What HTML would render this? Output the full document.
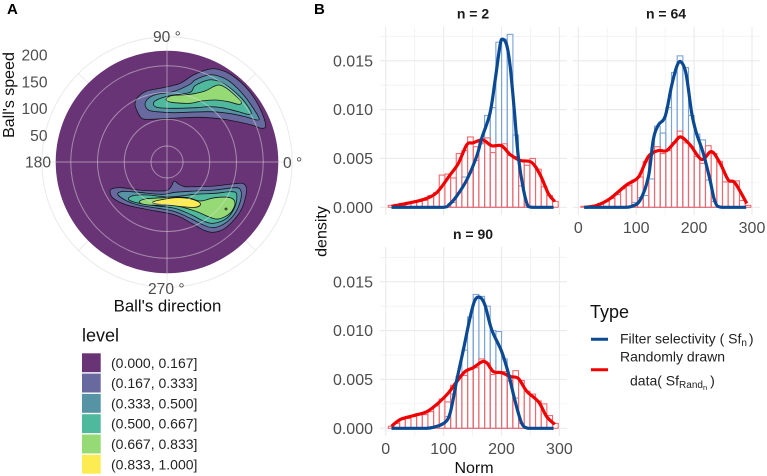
<!DOCTYPE html>
<html>
<head>
<meta charset="utf-8">
<style>
html,body{margin:0;padding:0;background:#fff;width:767px;height:476px;overflow:hidden}
svg{display:block}
text{font-family:"Liberation Sans",sans-serif}
</style>
</head>
<body>
<svg id="fig" xmlns="http://www.w3.org/2000/svg" width="767" height="476" viewBox="0 0 767 476"></svg>
<script>
// ---------- Panel A data ----------
const ringSpeeds = [0, 50, 100, 150, 204];
const speedTicks = [50, 100, 150, 200];
const levelLabels = ['(0.000, 0.167]', '(0.167, 0.333]', '(0.333, 0.500]', '(0.500, 0.667]', '(0.667, 0.833]', '(0.833, 1.000]'];
const levelColors = ['#693476', '#67699f', '#5593a5', '#4eb99d', '#95da74', '#fdec51'];
// contours: [velocity-x, velocity-y, ...] with level index
const upperLevel1 = [-96,176,-86,196,-61,213,-11,223,39,236,79,261,124,278,154,278,194,261,244,216,279,161,296,111,284,101,254,111,184,126,124,133,84,134,9,131,-51,128,-76,131,-91,156];
const upperLevel2 = [-66,173,-56,191,-31,203,19,211,69,233,84,246,124,261,154,258,189,241,234,196,274,136,269,126,234,136,184,146,124,151,19,148,-31,151,-56,156];
const upperLevel3 = [-41,173,-31,186,9,199,69,209,84,229,124,246,154,243,184,226,224,191,252,151,244,143,214,151,164,163,124,166,89,163,19,161,-26,163];
const upperLevel4 = [-3,188,14,199,69,203,114,213,139,226,156,231,179,221,214,191,224,178,214,173,184,181,144,186,104,183,69,176,14,179];
const lowerLevel1 = [-171,-89,-164,-80,-136,-77,-86,-84,-16,-87,4,-83,14,-71,22,-57,36,-67,54,-74,84,-74,144,-72,214,-64,232,-67,239,-84,229,-129,209,-164,174,-199,139,-211,109,-204,74,-184,24,-159,-61,-142,-121,-129,-161,-109];
const lowerLevel2 = [-148,-96,-131,-88,-86,-91,-16,-97,24,-91,84,-87,144,-84,204,-77,221,-85,221,-114,204,-154,174,-184,139,-197,109,-189,74,-171,24,-149,-26,-139,-86,-129,-126,-114];
const lowerLevel3 = [-116,-111,-101,-101,-56,-99,4,-105,84,-97,144,-94,194,-89,209,-97,204,-134,179,-169,139,-184,109,-177,74,-159,24,-139,-36,-131,-96,-121];
const lowerLevel4 = [-83,-121,-66,-111,-11,-107,24,-105,64,-107,99,-117,144,-107,189,-107,204,-124,189,-154,154,-171,124,-164,84,-147,24,-131,-56,-129];
const lowerLevel5 = [-44,-121,-21,-114,24,-107,64,-109,94,-119,100,-129,84,-136,44,-134,4,-129,-26,-126];
const contourLevels = [1, 2, 3, 4, 1, 2, 3, 4, 5];
const contourSeries = [upperLevel1, upperLevel2, upperLevel3, upperLevel4, lowerLevel1, lowerLevel2, lowerLevel3, lowerLevel4, lowerLevel5];
const contourPeak = [177, -141];

// ---------- Panel B data ----------
const binStart = 4.5;
const binWidth = 9.78;
const xTicks = [0, 100, 200, 300];
const xMinor = [50, 150, 250];
const yTicks = [0, 0.005, 0.01, 0.015];
const yMinor = [0.0025, 0.0075, 0.0125, 0.0175];

const n2RandBars = [.0002,.0003,.0004,.0005,.0006,.0006,.0007,.0012,.0015,.0033,.0034,.003,.0055,.0058,.0072,.0062,.0066,.0071,.0056,.0064,.0065,.0053,.0052,.0048,.0043,.005,.0039,.0021,.0012,.0006];
const n2FilterBars = [0,0,0,0,0,0,0,0,0,0,0,.0005,.0015,.0031,.0035,.0048,.0065,.0094,.0102,.0169,.0172,.0177,.0074,.0022,.0002,0,0,0,0,0];
const n2FilterX = [10,60,100,110,122,140,157,166,180,189,197.5,202,209,215,222,229,238,246,255,290];
const n2FilterY = [0,0,0,.0003,.0011,.0028,.0052,.0071,.0096,.013,.0166,.0172,.0166,.0144,.01,.0052,.0018,.0001,0,0];
const n2RandX = [10,36,65,88,111,125.5,140,151,167.5,183,200,215,232,252,267,281,292];
const n2RandY = [.0001,.0004,.0008,.0015,.0033,.0045,.0064,.0066,.0069,.0063,.0063,.0054,.0048,.0046,.0033,.0014,.0006];

const n64RandBars = [.0001,.0001,.0002,.0004,.0006,.0009,.0013,.0019,.0022,.0028,.0031,.0047,.0054,.0062,.0055,.0058,.0066,.0078,.0066,.0062,.0052,.0045,.0063,.0055,.0047,.0026,.0026,.0027,.0007,.0002];
const n64FilterBars = [0,0,0,0,0,0,0,0,.0001,.0005,.001,.0012,.0029,.0083,.0076,.0102,.0138,.0155,.0143,.0094,.0075,.0069,.0028,.0006,.0001,0,0,0,0,0];
const n64FilterX = [10,50,80,92,106.5,121,129.5,138,150,161,170,177,186,196,204,216,227.5,236,247.5,290];
const n64FilterY = [0,0,0,.0001,.0007,.0031,.0069,.0084,.0093,.0124,.0144,.0149,.0137,.0096,.0076,.0055,.0028,.0006,0,0];
const n64RandX = [11.5,32,55,83.5,104,121,138,152.5,167,177,193,213,230,245,259,270.5,291];
const n64RandY = [0,.0002,.0009,.0023,.0031,.0052,.0058,.0058,.0067,.0072,.0064,.0049,.0057,.0045,.0028,.0025,.0004];

const n90RandBars = [.0002,.0005,.0009,.001,.0012,.0014,.0014,.0017,.0023,.003,.0027,.0044,.0053,.0054,.0061,.0062,.0071,.0067,.0055,.0056,.0058,.0049,.0059,.0049,.0038,.0035,.0028,.0025,.0013,.0005];
const n90FilterBars = [0,0,0,0,0,0,0,0,0,.0005,.0012,.0035,.0053,.008,.0114,.0137,.0135,.0125,.01,.0099,.0071,.0048,.0031,.0005,0,0,0,0,0,0];
const n90FilterX = [10,40,70,82,100,111,123,134,146,154,163,171.5,183,200,212,223,235,246,255,290];
const n90FilterY = [0,0,0,.0001,.0005,.0015,.005,.008,.0114,.0131,.0134,.0126,.0101,.0079,.0056,.0029,.0005,0,0,0];
const n90RandX = [10,25,48,71,91,108,123,137,151,166,174.5,186,200,215,229,243.5,264,278,292];
const n90RandY = [.0002,.0009,.0013,.0017,.0026,.0036,.0048,.0058,.0062,.0068,.0067,.0058,.0057,.0053,.0051,.0038,.0027,.0012,.0004];

// ---------- helpers ----------
const NS = 'http://www.w3.org/2000/svg';
const fig = document.getElementById('fig');
function mk(tag, attrs, parent, txt) {
  const el = document.createElementNS(NS, tag);
  for (const k in attrs) el.setAttribute(k, attrs[k]);
  if (txt !== undefined) el.textContent = txt;
  (parent || fig).appendChild(el);
  return el;
}
function label(txt, x, y, size, fill, anchor, weight, rot) {
  const a = {x: x, y: y, 'font-size': size, fill: fill, 'text-anchor': anchor || 'start'};
  if (weight) a['font-weight'] = weight;
  if (rot) a.transform = 'rotate(' + rot + ' ' + x + ' ' + y + ')';
  return mk('text', a, fig, txt);
}
function smoothClosed(p) {
  const n = p.length;
  let d = 'M' + p[0][0].toFixed(2) + ' ' + p[0][1].toFixed(2);
  for (let i = 0; i < n; i++) {
    const p0 = p[(i - 1 + n) % n], p1 = p[i], p2 = p[(i + 1) % n], p3 = p[(i + 2) % n];
    d += 'C' + (p1[0] + (p2[0] - p0[0]) / 6).toFixed(2) + ' ' + (p1[1] + (p2[1] - p0[1]) / 6).toFixed(2) + ' ' +
      (p2[0] - (p3[0] - p1[0]) / 6).toFixed(2) + ' ' + (p2[1] - (p3[1] - p1[1]) / 6).toFixed(2) + ' ' +
      p2[0].toFixed(2) + ' ' + p2[1].toFixed(2);
  }
  return d + 'Z';
}
function smoothOpen(p, maxY) {
  const n = p.length;
  let d = 'M' + p[0][0].toFixed(2) + ' ' + p[0][1].toFixed(2);
  for (let i = 0; i < n - 1; i++) {
    const p0 = p[Math.max(i - 1, 0)], p1 = p[i], p2 = p[i + 1], p3 = p[Math.min(i + 2, n - 1)];
    const c1y = Math.min(p1[1] + (p2[1] - p0[1]) / 6, maxY);
    const c2y = Math.min(p2[1] - (p3[1] - p1[1]) / 6, maxY);
    d += 'C' + (p1[0] + (p2[0] - p0[0]) / 6).toFixed(2) + ' ' + c1y.toFixed(2) + ' ' +
      (p2[0] - (p3[0] - p1[0]) / 6).toFixed(2) + ' ' + c2y.toFixed(2) + ' ' +
      p2[0].toFixed(2) + ' ' + p2[1].toFixed(2);
  }
  return d;
}

// ---------- Panel A ----------
const cx = 167, cy = 162, discR = 111.3;
const ringR = v => 16 + 0.535 * v;
const tickR = v => v * 0.534;
const velX = v => cx + v / 3;
const velY = v => cy - v / 3;

let t = label('A', 7, 14, 15, '#000', 'start', 'bold');



ringSpeeds.forEach(v => {
  const ring = mk('circle', {cx: cx, cy: cy, r: ringR(v), fill: 'none', stroke: '#ebebeb', 'stroke-width': 1.1});
  
  
});
[45, 135, 225, 315, 0, 90, 180, 270].forEach(a => {
  const r = ringR(204), rad = a * Math.PI / 180;
  const spoke = mk('line', {x1: cx, y1: cy, x2: cx + r * Math.cos(rad), y2: cy - r * Math.sin(rad), stroke: '#ebebeb', 'stroke-width': 1.1});
  
  
});

t = label('180 \u00b0', 25, 167.5, 15.6, '#4d4d4d');



const disc = mk('circle', {cx: cx, cy: cy, r: discR, fill: levelColors[0]});



const defs = mk('defs', {});
const clip = mk('clipPath', {id: 'discClip'}, defs);
mk('circle', {cx: cx, cy: cy, r: discR}, clip);
const contourGroup = mk('g', {'clip-path': 'url(#discClip)'});


contourSeries.forEach((s, i) => {
  const pts = [];
  for (let k = 0; k < s.length; k += 2) pts.push([velX(s[k]), velY(s[k + 1])]);
  const c = mk('path', {d: smoothClosed(pts), fill: levelColors[contourLevels[i]], stroke: '#15151f', 'stroke-width': 0.8}, contourGroup);
  
  
});
const peak = mk('circle', {cx: velX(contourPeak[0]), cy: velY(contourPeak[1]), r: 1.1, fill: '#6a7a3a', stroke: '#222', 'stroke-width': 0.6}, contourGroup);



const overGrid = mk('g', {'clip-path': 'url(#discClip)', fill: 'none', stroke: 'rgba(225,225,225,0.5)', 'stroke-width': 1});


ringSpeeds.forEach(v => { mk('circle', {cx: cx, cy: cy, r: ringR(v)}, overGrid); });
mk('line', {x1: cx - discR, y1: cy, x2: cx + discR, y2: cy}, overGrid);
mk('line', {x1: cx, y1: cy - discR, x2: cx, y2: cy + discR}, overGrid);

t = label('90 \u00b0', 153, 42, 15.6, '#4d4d4d');


t = label('0 \u00b0', 283, 168, 15.6, '#4d4d4d');


t = label('270 \u00b0', 148, 294, 15.6, '#4d4d4d');


speedTicks.forEach(v => {
  const s = label(String(v), 47.5, cy - tickR(v) + 5.5, 15.6, '#4d4d4d', 'end');
  
  
});
t = label("Ball's speed", 14, 95, 16, '#111', 'middle', null, -90);


t = label("Ball's direction", 167.5, 311.5, 16.8, '#111', 'middle');



t = label('level', 82, 341.5, 18, '#111');


levelLabels.forEach((lab, i) => {
  const y = 353.3 + i * 20.3;
  const sw = mk('rect', {x: 82, y: y, width: 18.7, height: 18.9, fill: levelColors[i]});
  
  
  const l = label(lab, 111, y + 14.5, 14, '#222');
  
  
});

// ---------- Panel B ----------
t = label('B', 314, 14, 15, '#000', 'start', 'bold');



const xPerUnit = 0.579, yPerUnit = 9770;
function drawPanel(name, x0, y0, left, right, top, bottom, title, titleX, titleY, showY, showX, randBars, filterBars, fx, fy, rx, ry) {
  const sx = v => x0 + v * xPerUnit;
  const sy = v => y0 - v * yPerUnit;
  const g = mk('g', {});
  
  
  yMinor.forEach(v => { mk('line', {x1: left, x2: right, y1: sy(v), y2: sy(v), stroke: '#f1f1f1', 'stroke-width': 0.8}, g); });
  xMinor.forEach(v => { mk('line', {x1: sx(v), x2: sx(v), y1: top, y2: bottom, stroke: '#f1f1f1', 'stroke-width': 0.8}, g); });
  yTicks.forEach(v => { mk('line', {x1: left, x2: right, y1: sy(v), y2: sy(v), stroke: '#ebebeb', 'stroke-width': 1.2}, g); });
  xTicks.forEach(v => { mk('line', {x1: sx(v), x2: sx(v), y1: top, y2: bottom, stroke: '#ebebeb', 'stroke-width': 1.2}, g); });
  filterBars.forEach((v, k) => {
    if (v <= 0) return;
    const b = mk('rect', {x: sx(binStart + k * binWidth), y: sy(v), width: binWidth * xPerUnit, height: v * yPerUnit, fill: 'none', stroke: '#7ba3d6', 'stroke-width': 1.1}, g);
    
    
  });
  randBars.forEach((v, k) => {
    const b = mk('rect', {x: sx(binStart + k * binWidth), y: sy(v), width: binWidth * xPerUnit, height: v * yPerUnit, fill: 'none', stroke: '#ef6a70', 'stroke-width': 1.1}, g);
    
    
  });
  const rl = mk('path', {d: smoothOpen(rx.map((x, i) => [sx(x), sy(ry[i])]), y0), fill: 'none', stroke: '#f00000', 'stroke-width': 3.2, 'stroke-linejoin': 'round'}, g);
  
  
  const fl = mk('path', {d: smoothOpen(fx.map((x, i) => [sx(x), sy(fy[i])]), y0), fill: 'none', stroke: '#0b4a92', 'stroke-width': 3.2, 'stroke-linejoin': 'round'}, g);
  
  
  const ti = label(title, titleX, titleY, 14, '#1a1a1a', 'middle', 'bold');
  
  
  if (showY) yTicks.forEach(v => {
    const l = label(v.toFixed(3), 373, sy(v) + 5.5, 16, '#4d4d4d', 'end');
    
    
  });
  if (showX) xTicks.forEach(v => {
    const l = label(String(v), sx(v), bottom + 18, 16, '#4d4d4d', 'middle');
    
    
  });
}
drawPanel('panel-n-2', 385.7, 207.3, 380, 567, 27, 215, 'n = 2', 473, 18.5, true, false, n2RandBars, n2FilterBars, n2FilterX, n2FilterY, n2RandX, n2RandY);
drawPanel('panel-n-64', 578.3, 207.3, 572.7, 760, 27, 215, 'n = 64', 666, 18.5, false, true, n64RandBars, n64FilterBars, n64FilterX, n64FilterY, n64RandX, n64RandY);
drawPanel('panel-n-90', 385.7, 428.3, 380, 567, 247, 436, 'n = 90', 473, 239, true, true, n90RandBars, n90FilterBars, n90FilterX, n90FilterY, n90RandX, n90RandY);

t = label('density', 326.7, 231.5, 16, '#111', 'middle', null, -90);


t = label('Norm', 474, 473, 16, '#111', 'middle');



// ---------- Type legend ----------
t = label('Type', 590, 318, 18, '#111');


const keyB = mk('line', {x1: 591, x2: 608, y1: 339.3, y2: 339.3, stroke: '#0b4a92', 'stroke-width': 3});


const keyR = mk('line', {x1: 591, x2: 608, y1: 369.7, y2: 369.7, stroke: '#f00000', 'stroke-width': 3});



const lf = mk('text', {x: 620, y: 343.5, 'font-size': 14, fill: '#222'});


mk('tspan', {}, lf, 'Filter selectivity ( Sf');
mk('tspan', {'font-size': 10, dy: 2.5}, lf, 'n');
mk('tspan', {dy: -2.5, dx: 2}, lf, ')');

t = label('Randomly drawn', 620, 361.7, 14, '#222');



const lr = mk('text', {x: 630, y: 385.7, 'font-size': 14, fill: '#222'});


mk('tspan', {}, lr, 'data( Sf');
mk('tspan', {'font-size': 10, dy: 2.5}, lr, 'Rand');
mk('tspan', {'font-size': 7.5, dy: 2}, lr, 'n');
mk('tspan', {dy: -4.5, dx: 3}, lr, ')');
</script>
</body>
</html>
